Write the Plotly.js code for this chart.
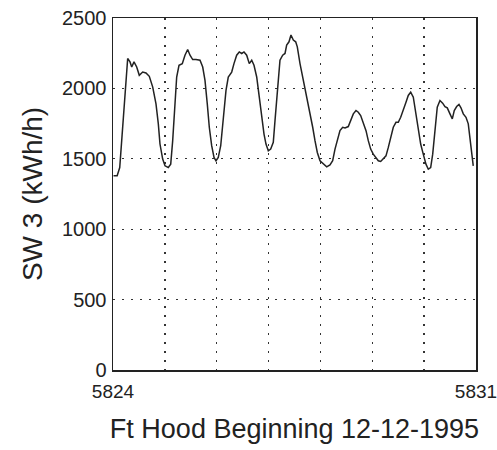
<!DOCTYPE html>
<html>
<head>
<meta charset="utf-8">
<script src="https://cdn.plot.ly/plotly-3.0.1.min.js"></script>
<style>html,body{margin:0;padding:0;background:#fff;}#chart{width:497px;height:450px;}</style>
</head>
<body>
<div id="chart"></div>
<script>
// Hour index (days)
var days = [5824.01,5824.08,5824.13,5824.187,5824.231,5824.283,5824.328,5824.361,5824.405,5824.457,
5824.507,5824.573,5824.636,5824.700,5824.766,5824.829,5824.874,5824.906,5824.958,5825.003,
5825.066,5825.113,5825.151,5825.196,5825.228,5825.273,5825.336,5825.388,5825.440,5825.485,
5825.537,5825.600,5825.678,5825.730,5825.774,5825.818,5825.857,5825.903,5825.948,5825.986,
5826.030,5826.077,5826.127,5826.179,5826.223,5826.289,5826.333,5826.385,5826.435,5826.482,
5826.526,5826.578,5826.628,5826.675,5826.719,5826.771,5826.821,5826.867,5826.912,5826.950,
5826.995,5827.041,5827.091,5827.124,5827.168,5827.220,5827.272,5827.317,5827.349,5827.394,
5827.432,5827.477,5827.523,5827.554,5827.606,5827.658,5827.702,5827.747,5827.799,5827.851,
5827.895,5827.940,5827.992,5828.055,5828.121,5828.184,5828.236,5828.281,5828.333,5828.377,
5828.429,5828.474,5828.537,5828.584,5828.634,5828.686,5828.730,5828.776,5828.826,5828.879,
5828.923,5828.969,5829.019,5829.071,5829.116,5829.162,5829.212,5829.264,5829.309,5829.355,
5829.405,5829.457,5829.501,5829.548,5829.598,5829.650,5829.694,5829.741,5829.791,5829.843,
5829.887,5829.933,5829.983,5830.035,5830.080,5830.126,5830.165,5830.209,5830.253,5830.305,
5830.357,5830.402,5830.446,5830.498,5830.543,5830.581,5830.627,5830.672,5830.710,5830.755,
5830.807,5830.851,5830.884,5830.917,5830.947];

// SW 3 load (kWh/h)
var load = [1379,1379,1438,1724,1962,2212,2188,2152,2188,2152,
2093,2116,2110,2086,2009,1890,1748,1605,1498,1450,
1438,1462,1629,1890,2081,2164,2176,2236,2276,2236,
2205,2205,2200,2152,2057,1890,1724,1593,1510,1486,
1510,1593,1795,1986,2081,2116,2176,2236,2259,2248,
2259,2236,2176,2200,2164,2081,1938,1795,1676,1605,
1557,1569,1617,1771,1986,2200,2236,2248,2307,2331,
2379,2343,2331,2295,2176,2081,2009,1938,1843,1724,
1629,1545,1486,1462,1443,1457,1486,1569,1652,1700,
1724,1719,1729,1771,1819,1843,1831,1807,1759,1700,
1629,1569,1533,1505,1486,1481,1498,1521,1581,1652,
1724,1759,1759,1795,1843,1902,1950,1974,1938,1819,
1700,1605,1533,1462,1426,1438,1533,1724,1867,1914,
1895,1871,1862,1819,1783,1843,1871,1886,1862,1819,
1795,1748,1629,1533,1450];

var xTickVals = [5824,5825,5826,5827,5828,5829,5830,5831];
var xTickText = ['5824','','','','','','','5831'];
var yTickVals = [0,500,1000,1500,2000,2500];
var yTickText = ['0','500','1000','1500','2000','2500'];

var trace = {
  x: days, y: load, type: 'scatter', mode: 'lines',
  line: {color: '#222', width: 1.5}, hoverinfo: 'none'
};

var layout = {
  width: 497, height: 450,
  margin: {l: 113, r: 21, t: 18, b: 80},
  paper_bgcolor: '#fff', plot_bgcolor: '#fff',
  showlegend: false,
  font: {family: 'Liberation Sans, Arial, sans-serif', color: '#222', size: 20},
  xaxis: {
    range: [5824, 5831], tickvals: xTickVals, ticktext: xTickText,
    showgrid: true, gridcolor: '#333', gridwidth: 1.3, griddash: '2px,7px',
    zeroline: false, showline: true, linecolor: '#222', linewidth: 1.5, mirror: true,
    ticks: '', ticklabelstandoff: 4, ticklabeloverflow: 'allow',
    tickfont: {size: 19},
    title: {text: 'Ft Hood Beginning 12-12-1995', font: {size: 27, color: '#222'}, standoff: 18}
  },
  yaxis: {
    range: [0, 2500], tickvals: yTickVals, ticktext: yTickText,
    showgrid: true, gridcolor: '#333', gridwidth: 1.3, griddash: '2px,7px',
    zeroline: false, showline: true, linecolor: '#222', linewidth: 1.5, mirror: true,
    ticks: '', ticklabelstandoff: 1,
    title: {text: 'SW 3 (kWh/h)', font: {size: 28, color: '#222'}, standoff: 11}
  }
};

Plotly.newPlot('chart', [trace], layout, {displayModeBar: false, staticPlot: true});
</script>
</body>
</html>
